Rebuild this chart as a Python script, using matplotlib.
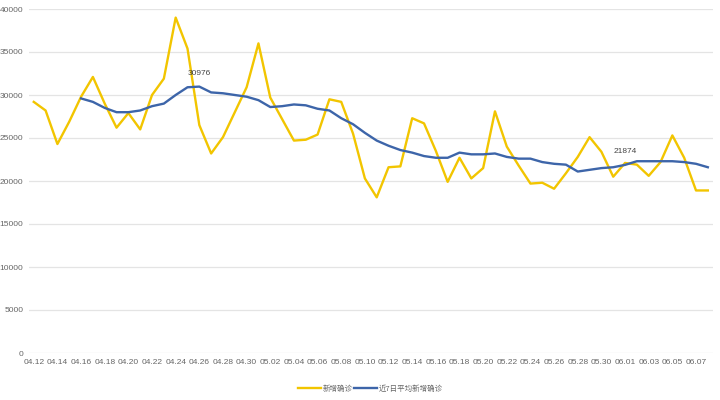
import matplotlib.pyplot as plt
import pandas as pd

plt.rcParams['font.family'] = ['Noto Sans CJK SC', 'DejaVu Sans']

dates = pd.date_range('2022-04-12', '2022-06-08').strftime('%m.%d').tolist()

# 新增确诊 (daily new cases)
new_cases = [29200, 28200, 24300, 26900, 29800, 32100, 29000, 26200, 27900, 26000,
             30000, 31900, 39000, 35400, 26500, 23200, 25100, 28000, 30900, 36000,
             29700, 27200, 24700, 24800, 25400, 29500, 29200, 25500, 20300, 18100,
             21600, 21700, 27300, 26700, 23500, 19900, 22700, 20300, 21500, 28100,
             24000, 21800, 19700, 19800, 19100, 20900, 22800, 25100, 23400, 20500,
             22100, 21900, 20600, 22200, 25300, 22700, 18900, 18900]

# 近7日平均新增确诊 (7-day average), starts at 04.16
avg_start = 4
avg_cases = [29600, 29200, 28500, 28000, 28000, 28200, 28700, 29000, 30000, 30900,
             30976, 30300, 30200, 30000, 29800, 29400, 28600, 28700, 28900, 28800,
             28400, 28200, 27300, 26600, 25600, 24700, 24100, 23600, 23300, 22900,
             22700, 22700, 23300, 23100, 23100, 23200, 22800, 22600, 22600, 22200,
             22000, 21900, 21100, 21300, 21500, 21600, 21874, 22300, 22300, 22300,
             22300, 22200, 22000, 21600]

# labelled points on the average line
marks = [14, 50]

fig = plt.figure(figsize=(7.2, 4), dpi=100)
ax = fig.add_axes([0.040, 0.1175, 0.950, 0.86])

x = list(range(len(dates)))
x_avg = list(range(avg_start, avg_start + len(avg_cases)))

ax.plot(x, new_cases, color='#F2C500', lw=1.7, label='新增确诊', zorder=3)
ax.plot(x_avg, avg_cases, color='#3D65A9', lw=1.7, label='近7日平均新增确诊', zorder=4)

for i in marks:
    v = avg_cases[i - avg_start]
    ax.annotate(f'{v}', (i, v), xytext=(0, 7), textcoords='offset points',
                ha='center', va='bottom', fontsize=6, color='#444444',
                family='Liberation Sans')

ax.set_ylim(0, 40000)
ax.set_yticks(range(0, 40001, 5000))
ax.set_xlim(-0.42, len(dates) - 1 + 0.42)
ax.set_xticks(x[::2])
ax.set_xticklabels(dates[::2])

ax.grid(axis='y', color='#E4E4E4', lw=0.9)
ax.set_axisbelow(True)
for s in ax.spines.values():
    s.set_visible(False)
ax.tick_params(axis='both', length=0, labelsize=6, colors='#666666')
ax.tick_params(axis='x', pad=4)
ax.tick_params(axis='y', pad=4)
for t in ax.get_xticklabels() + ax.get_yticklabels():
    t.set_family('Liberation Sans')

ax.legend(loc='center', bbox_to_anchor=(0.5, -0.105), ncol=2, frameon=False,
          fontsize=5.4, handlelength=3.0, handletextpad=0.3, columnspacing=0.2,
          labelcolor='#666666')

fig.savefig('out.png', dpi=100)
